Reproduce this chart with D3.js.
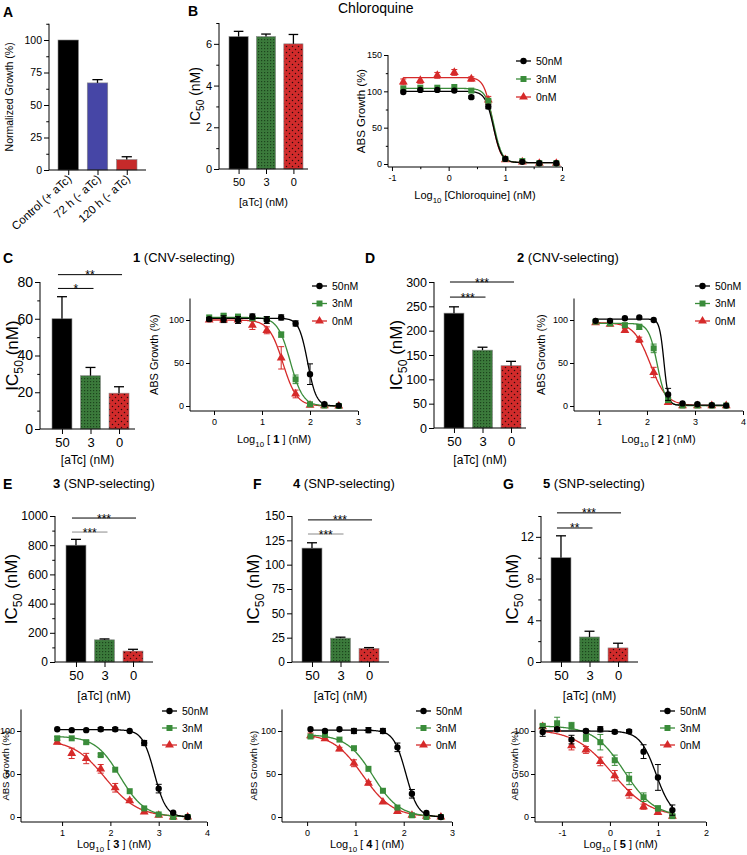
<!DOCTYPE html>
<html><head><meta charset="utf-8">
<script src="https://cdn.jsdelivr.net/npm/d3@7/dist/d3.min.js"></script>
<style>
body{margin:0;background:#fff;}
svg{font-family:"Liberation Sans", Arial, Helvetica, sans-serif;}
text{white-space:pre;}
</style></head><body>
<svg id="chart" width="747" height="855"></svg>
<script>
// ================= DATA =================
// Panel A
const aCategories = ["Control (+ aTc)", "72 h (- aTc)", "120 h (- aTc)"];
const aValues = [100, 67, 8];
const aErrors = [0, 2.5, 2.2];

// IC50 bar panels (aTc levels)
const atcLevels = ["50", "3", "0"];
const bIC50 = [6.35, 6.35, 6.0];
const bErr = [0.25, 0.12, 0.45];
const cIC50 = [60, 29, 19.5];
const cErr = [12, 4.5, 3.5];
const dIC50 = [236, 160, 128];
const dErr = [13, 6, 9];
const eIC50 = [800, 152, 75];
const eErr = [40, 6, 12];
const fIC50 = [117, 24.5, 14];
const fErr = [5.5, 1, 0.8];
const gIC50 = [10, 2.4, 1.35];
const gErr = [2.1, 0.55, 0.45];

// significance annotations: [compared level, stars, bracket level in data units]
const cSig = [["0", "**", 84], ["3", "*", 76.5]];
const dSig = [["0", "***", 300], ["3", "***", 269]];
const eSig = [["0", "***", 986], ["3", "***", 890]];
const fSig = [["0", "***", 146], ["3", "***", 131.5]];
const gSig = [["0", "***", 14.3], ["3", "**", 12.85]];

// Dose-response series (legend)
const seriesNames = ["50nM", "3nM", "0nM"];

// Chloroquine
const bLogX = [-0.8, -0.5, -0.2, 0.1, 0.4, 0.7, 1.0, 1.3, 1.6, 1.9];
const b_50 = [99, 102, 102, 101, 92, 79, 7, 3, 1, 1];
const b_50Err = [1, 1, 1, 1, 1.5, 3, 1, 1, 0.5, 0.5];
const b_3 = [104, 105, 105, 106, 101, 87, 7, 4, 1, 1];
const b_3Err = [1, 1, 1, 1, 1.5, 2, 1, 1, 0.5, 0.5];
const b_0 = [113, 115, 122, 126, 117, 88, 6, 3, 1, 1];
const b_0Err = [4, 4, 4, 4, 3, 5, 1, 1, 0.5, 0.5];
const bFit = [[100, 2, 0.79, 6], [104, 2, 0.8, 6], [119, 2, 0.77, 6]]; // top, bottom, logIC50, hill

// Compound 1
const cLogX = [-0.1, 0.2, 0.5, 0.8, 1.1, 1.4, 1.7, 2.0, 2.3, 2.6];
const c_50 = [101, 101, 100, 104, 100, 103, 96, 37, 2, 0.5];
const c_50Err = [2, 4, 4, 3, 4, 3, 3, 12, 1, 0.5];
const c_3 = [103, 105, 104, 102, 101, 83, 31, 2, 0.5, 0];
const c_3Err = [1, 2, 2, 2, 2, 3, 5, 1, 0.5, 0];
const c_0 = [100, 100, 100, 94, 88, 56, 14, 1, 0.5, 0];
const c_0Err = [1, 1, 1, 5, 4, 13, 4.5, 1, 0.5, 0];
const cFit = [[102, 0, 1.95, 4.8], [103, 0, 1.59, 3.3], [100, 0, 1.435, 3.0]];

// Compound 2
const dLogX = [0.93, 1.23, 1.54, 1.84, 2.14, 2.44, 2.74, 3.05, 3.35, 3.65];
const d_50 = [99, 99, 102, 103, 100, 13.5, 3, 2, 1, 0.5];
const d_50Err = [1, 1, 1, 1, 1, 7, 1, 1, 0.5, 0.5];
const d_3 = [98, 96, 94, 92, 67, 7, 0.5, 0.5, 0.5, 0.5];
const d_3Err = [1, 1, 2, 3, 5, 3, 0.5, 0.5, 0.5, 0.5];
const d_0 = [97, 95, 88, 77, 39, 4, 0.5, 0.5, 0.5, 0.5];
const d_0Err = [1, 1, 2, 3, 6, 2, 0.5, 0.5, 0.5, 0.5];
const dFit = [[101, 1, 2.354, 9.4], [96, 0.5, 2.214, 4.9], [97, 0.5, 2.07, 2.53]];

// Compound 3
const eLogX = [0.9, 1.2, 1.5, 1.8, 2.1, 2.4, 2.7, 3.0, 3.3, 3.6];
const e_50 = [102, 101, 101, 102, 102, 100, 86, 33, 5, 0];
const e_50Err = [1, 1, 1, 2, 2, 1, 3, 5, 1, 0.5];
const e_3 = [91.5, 91.5, 87, 72, 55, 30, 10, 3, 0, 0];
const e_3Err = [2, 1, 2, 1.5, 1, 1, 1, 1, 0.5, 0.5];
const e_0 = [87, 74, 68, 56, 34, 19, 6, 2, 0, 0];
const e_0Err = [2, 6, 6, 5, 5, 2, 2, 1, 0.5, 0.5];
const eFit = [[101.5, 0, 2.91, 3.53], [94, 0, 2.2, 1.7], [90, 0, 1.9, 1.3]];

// Compound 4
const fLogX = [0.07, 0.37, 0.67, 0.97, 1.27, 1.57, 1.87, 2.17, 2.47, 2.77];
const f_50 = [102, 100, 102, 100, 101, 100, 81, 27, 4.6, 0];
const f_50Err = [1, 1, 1, 3, 3, 3, 5, 5, 1, 0.5];
const f_3 = [93.6, 95.5, 90, 80, 56, 30.5, 11, 2, 0, 0];
const f_3Err = [1, 1, 1, 1, 1, 1, 1, 1, 0.5, 0.5];
const f_0 = [94.6, 91, 79, 62.5, 39.4, 17.4, 6.6, 2, 1, 0];
const f_0Err = [3, 2, 2, 4, 2, 1, 2, 1, 0.5, 0.5];
const fFit = [[101, 0, 2.044, 3.48], [96, 0, 1.362, 1.59], [97, 0, 1.153, 1.41]];

// Compound 5
const gLogX = [-1.4, -1.1, -0.8, -0.5, -0.2, 0.1, 0.4, 0.7, 1.0, 1.3];
const g_50 = [98.8, 102, 90, 100, 102, 99, 99.6, 76, 46, 8];
const g_50Err = [5, 2, 5, 2, 3, 2, 2, 8, 15, 6];
const g_3 = [106, 109, 106, 92, 87, 66, 44.6, 23, 10, 1];
const g_3Err = [2, 7, 4, 4, 9, 6, 7, 5, 3, 2];
const g_0 = [105, 102, 83, 78, 64.6, 48, 27, 12, 5.4, 1];
const g_0Err = [2, 2, 5, 4, 5, 6, 5, 3, 2, 1];
const gFit = [[100, 0, 0.96, 2.6], [106, 0, 0.3, 1.37], [102, 0, 0.05, 1.1]];

// ================= DRAWING =================
const svg = d3.select("#chart");
const BLACK = "#000", GREEN = "#3a8c3a", RED = "#d62a2a";
const seriesColors = [BLACK, GREEN, RED];

const defs = svg.append("defs");
const pg = defs.append("pattern").attr("id", "pGreen").attr("width", 3).attr("height", 3).attr("patternUnits", "userSpaceOnUse");
pg.append("rect").attr("width", 3).attr("height", 3).attr("fill", "#3b7a3b");
pg.append("rect").attr("width", 1.2).attr("height", 1.2).attr("fill", "#1c441c");
const pr = defs.append("pattern").attr("id", "pRed").attr("width", 6).attr("height", 6).attr("patternUnits", "userSpaceOnUse");
pr.append("rect").attr("width", 6).attr("height", 6).attr("fill", "#d12b2b");
pr.append("circle").attr("cx", 1.5).attr("cy", 1.5).attr("r", 0.75).attr("fill", "#2a0a0a");
pr.append("circle").attr("cx", 4.5).attr("cy", 4.5).attr("r", 0.75).attr("fill", "#2a0a0a");
const barFills = ["#000", "url(#pGreen)", "url(#pRed)"];

function styleAxis(g, fs) {
  g.select(".domain").remove();
  g.selectAll("line").attr("stroke", "#000").attr("stroke-width", 1);
  g.selectAll("text").attr("font-size", fs).attr("fill", "#000")
    .attr("font-family", '"Liberation Sans", Arial, sans-serif');
}
function leftAxis(x, scale, major, minor, fs, tl, yFrom, yTo) {
  const g = svg.append("g").attr("transform", `translate(${x},0)`);
  g.call(d3.axisLeft(scale).tickValues(major).tickSize(tl).tickPadding(2).tickFormat(d => String(d)));
  styleAxis(g, fs);
  if (minor && minor.length) {
    const m = svg.append("g").attr("transform", `translate(${x},0)`);
    m.call(d3.axisLeft(scale).tickValues(minor).tickSize(tl * 0.55).tickFormat(""));
    styleAxis(m, fs);
  }
  svg.append("line").attr("x1", x).attr("x2", x).attr("y1", yFrom).attr("y2", yTo).attr("stroke", "#000");
}
function bottomAxis(y, scale, major, minor, fs, tl, pad, xFrom, xTo, fmt) {
  const g = svg.append("g").attr("transform", `translate(0,${y})`);
  g.call(d3.axisBottom(scale).tickValues(major).tickSize(tl).tickPadding(pad).tickFormat(fmt || (d => String(d))));
  styleAxis(g, fs);
  if (minor && minor.length) {
    const m = svg.append("g").attr("transform", `translate(0,${y})`);
    m.call(d3.axisBottom(scale).tickValues(minor).tickSize(tl * 0.55).tickFormat(""));
    styleAxis(m, fs);
  }
  svg.append("line").attr("x1", xFrom).attr("x2", xTo).attr("y1", y).attr("y2", y).attr("stroke", "#000");
}
function rich(sel, parts, fs) {
  let shifted = 0;
  parts.forEach(p => {
    const ts = sel.append("tspan").text(p.t);
    if (p.sub) { ts.attr("font-size", fs * 0.72).attr("dy", fs * 0.32); shifted = fs * 0.32; }
    else if (shifted) { ts.attr("dy", -shifted); shifted = 0; }
    if (p.bold) ts.attr("font-weight", "bold");
  });
}
function label(x, y, txt, fs, opts = {}) {
  const t = svg.append("text").attr("x", x).attr("y", y).attr("font-size", fs)
    .attr("text-anchor", opts.anchor || "start").attr("fill", "#000");
  if (opts.bold) t.attr("font-weight", "bold");
  if (Array.isArray(txt)) rich(t, txt, fs); else t.text(txt);
  return t;
}
function vlabel(x, cy, parts, fs) {
  const t = svg.append("text").attr("transform", `translate(${x},${cy}) rotate(-90)`)
    .attr("text-anchor", "middle").attr("font-size", fs).attr("fill", "#000");
  rich(t, parts, fs);
}

// ----- Bar panel -----
function barPanel(cfg) {
  const y = d3.scaleLinear().domain(cfg.yDomain).range([cfg.yBottom, cfg.yTopPx]);
  const x = d3.scaleBand().domain(cfg.cats).range(cfg.barRange).paddingInner(0.3);
  const bw = x.bandwidth();
  const g = svg.append("g");
  g.selectAll("rect").data(cfg.values).join("rect")
    .attr("x", (d, i) => x(cfg.cats[i])).attr("y", d => y(d))
    .attr("width", bw).attr("height", d => y(0) - y(d))
    .attr("fill", (d, i) => cfg.fills[i]).attr("stroke", "#888").attr("stroke-width", 0.6);
  cfg.values.forEach((v, i) => {
    const e = cfg.errs[i];
    if (!e) return;
    const cx = x(cfg.cats[i]) + bw / 2;
    g.append("line").attr("x1", cx).attr("x2", cx).attr("y1", y(v)).attr("y2", y(v + e)).attr("stroke", "#000").attr("stroke-width", 1.3);
    g.append("line").attr("x1", cx - bw * 0.25).attr("x2", cx + bw * 0.25).attr("y1", y(v + e)).attr("y2", y(v + e)).attr("stroke", "#000").attr("stroke-width", 1.3);
  });
  leftAxis(cfg.axisX, y, cfg.ticks, cfg.minor, cfg.tickFont, 5, y(cfg.yDomain[1]), cfg.yBottom);
  const xc = d3.scalePoint().domain(cfg.cats).range([x(cfg.cats[0]) + bw / 2, x(cfg.cats[cfg.cats.length - 1]) + bw / 2]);
  if (cfg.rotated) {
    bottomAxis(cfg.yBottom, xc, cfg.cats, [], cfg.catFont, 5, 3, cfg.axisX, cfg.axisEnd, () => "");
    cfg.cats.forEach(c => {
      svg.append("text").attr("transform", `translate(${xc(c) + 4},${cfg.yBottom + 10}) rotate(-42)`)
        .attr("text-anchor", "end").attr("font-size", cfg.catFont).text(c);
    });
  } else {
    bottomAxis(cfg.yBottom, xc, cfg.cats, [], cfg.catFont, 5, 4, cfg.axisX, cfg.axisEnd);
  }
  if (cfg.sig) {
    cfg.sig.forEach((s, k) => {
      const ly = y(s[2]);
      const x1 = xc(cfg.cats[0]) - 4, x2 = xc(s[0]) + 3;
      svg.append("line").attr("x1", x1).attr("x2", x2).attr("y1", ly).attr("y2", ly)
        .attr("stroke", cfg.sigGray && k === 1 ? "#8a8a8a" : "#000").attr("stroke-width", 1);
      svg.append("text").attr("x", (x1 + x2) / 2).attr("y", ly + 4.5).attr("text-anchor", "middle")
        .attr("font-size", 12).text(s[1]);
    });
  }
  if (cfg.ylabel) vlabel(cfg.ylabelX, (y(cfg.yDomain[1]) + cfg.yBottom) / 2, cfg.ylabel, cfg.ylabelFont);
  if (cfg.xlabel) label((cfg.axisX + cfg.axisEnd) / 2, cfg.xlabelY, cfg.xlabel, cfg.xlabelFont, { anchor: "middle" });
}

// ----- Dose-response panel -----
const symbols = [d3.symbolCircle, d3.symbolSquare, d3.symbolTriangle];
const symSizes = [32, 36, 34];
function curvePanel(cfg) {
  const x = d3.scaleLinear().domain(cfg.xDomain).range(cfg.xRange);
  const y = d3.scaleLinear().domain([0, cfg.yMax]).range([cfg.y0, cfg.yTop]);
  leftAxis(cfg.xRange[0], y, cfg.yTicks, cfg.yMinor, 9, 4, cfg.yTop, cfg.xAxisY);
  bottomAxis(cfg.xAxisY, x, cfg.xTicks, cfg.xMinor, 9, 4, 4, cfg.xRange[0], cfg.xRange[1]);
  const line = d3.line().x(d => x(d[0])).y(d => y(d[1]));
  const order = [2, 1, 0];
  order.forEach(i => {
    const s = cfg.series[i];
    const [top, bot, c, h] = s.fit;
    const lo = d3.min(cfg.logX), hi = d3.max(cfg.logX);
    const pts = d3.range(lo, hi + 1e-9, (hi - lo) / 200).map(v => [v, bot + (top - bot) / (1 + Math.pow(10, (v - c) * h))]);
    svg.append("path").attr("d", line(pts)).attr("fill", "none").attr("stroke", seriesColors[i]).attr("stroke-width", 1.3);
  });
  order.forEach(i => {
    const s = cfg.series[i];
    const g = svg.append("g").attr("stroke", seriesColors[i]).attr("stroke-width", 1);
    cfg.logX.forEach((lx, j) => {
      const v = s.vals[j], e = s.errs[j];
      if (e < 1.2) return;
      const cx = x(lx);
      g.append("line").attr("x1", cx).attr("x2", cx).attr("y1", y(v - e)).attr("y2", y(v + e));
      [v - e, v + e].forEach(t => g.append("line").attr("x1", cx - 3).attr("x2", cx + 3).attr("y1", y(t)).attr("y2", y(t)));
    });
    svg.append("g").selectAll("path").data(s.vals).join("path")
      .attr("transform", (d, j) => `translate(${x(cfg.logX[j])},${y(d)})`)
      .attr("d", d3.symbol(symbols[i], symSizes[i])).attr("fill", seriesColors[i]);
  });
  // legend
  seriesNames.forEach((n, i) => {
    const ly = cfg.legend[1] + i * cfg.legendStep;
    svg.append("line").attr("x1", cfg.legend[0]).attr("x2", cfg.legend[0] + 15).attr("y1", ly).attr("y2", ly)
      .attr("stroke", seriesColors[i]).attr("stroke-width", 1.3);
    svg.append("path").attr("transform", `translate(${cfg.legend[0] + 7.5},${ly})`)
      .attr("d", d3.symbol(symbols[i], symSizes[i])).attr("fill", seriesColors[i]);
    svg.append("text").attr("x", cfg.legend[0] + 20).attr("y", ly + 3.6).attr("font-size", 10.5).text(n);
  });
  vlabel(cfg.ylabelX, (cfg.yTop + cfg.xAxisY) / 2, [{ t: "ABS Growth (%)" }], cfg.ylabelFont);
  label((cfg.xRange[0] + cfg.xRange[1]) / 2, cfg.xlabelY, cfg.xlabel, 11, { anchor: "middle" });
}

const ic50Label = [{ t: "IC" }, { t: "50", sub: true }, { t: " (nM)" }];
const atcLabel = [{ t: "[aTc] (nM)" }];

// Panel letters & titles
[["A", 3, 17], ["B", 188, 16], ["C", 3, 263], ["D", 365, 263], ["E", 3, 489], ["F", 253, 489], ["G", 503, 489]]
  .forEach(p => label(p[1], p[2], p[0], 14, { bold: true }));
label(338, 13, "Chloroquine", 14);
label(133, 262, [{ t: "1", bold: true }, { t: " (CNV-selecting)" }], 13);
label(517, 262, [{ t: "2", bold: true }, { t: " (CNV-selecting)" }], 13);
label(53, 488, [{ t: "3", bold: true }, { t: " (SNP-selecting)" }], 13);
label(293, 488, [{ t: "4", bold: true }, { t: " (SNP-selecting)" }], 13);
label(543, 488, [{ t: "5", bold: true }, { t: " (SNP-selecting)" }], 13);

// A
barPanel({ cats: aCategories, values: aValues, errs: aErrors, fills: ["#000", "#4646a6", "#c62a2a"],
  yDomain: [0, 112.5], yBottom: 170, yTopPx: 23.75, barRange: [58, 137], axisX: 49, axisEnd: 146,
  ticks: [0, 25, 50, 75, 100], minor: [12.5, 37.5, 62.5, 87.5, 112.5], tickFont: 10.5, catFont: 11.5, rotated: true,
  ylabel: [{ t: "Normalized Growth (%)" }], ylabelX: 13, ylabelFont: 10.5 });
// B
barPanel({ cats: atcLevels, values: bIC50, errs: bErr, fills: barFills,
  yDomain: [0, 7], yBottom: 169, yTopPx: 23, barRange: [229, 303], axisX: 219, axisEnd: 308,
  ticks: [0, 2, 4, 6], minor: [1, 3, 5, 7], tickFont: 11, catFont: 11,
  ylabel: ic50Label, ylabelX: 200, ylabelFont: 14, xlabel: atcLabel, xlabelY: 206, xlabelFont: 11 });
// C
barPanel({ cats: atcLevels, values: cIC50, errs: cErr, fills: barFills, sig: cSig,
  yDomain: [0, 80], yBottom: 429, yTopPx: 282, barRange: [52, 129], axisX: 40, axisEnd: 135,
  ticks: [0, 20, 40, 60, 80], minor: [10, 30, 50, 70], tickFont: 14, catFont: 13,
  ylabel: ic50Label, ylabelX: 18, ylabelFont: 17, xlabel: atcLabel, xlabelY: 464, xlabelFont: 12 });
// D
barPanel({ cats: atcLevels, values: dIC50, errs: dErr, fills: barFills, sig: dSig,
  yDomain: [0, 300], yBottom: 428, yTopPx: 282, barRange: [444, 521], axisX: 434, axisEnd: 526,
  ticks: [0, 50, 100, 150, 200, 250, 300], minor: [], tickFont: 12.5, catFont: 13,
  ylabel: ic50Label, ylabelX: 402, ylabelFont: 17, xlabel: atcLabel, xlabelY: 464, xlabelFont: 12 });
// E
barPanel({ cats: atcLevels, values: eIC50, errs: eErr, fills: barFills, sig: eSig, sigGray: true,
  yDomain: [0, 1000], yBottom: 662, yTopPx: 516, barRange: [66, 143], axisX: 55, axisEnd: 153,
  ticks: [0, 200, 400, 600, 800, 1000], minor: [100, 300, 500, 700, 900], tickFont: 12, catFont: 13,
  ylabel: ic50Label, ylabelX: 17, ylabelFont: 17, xlabel: atcLabel, xlabelY: 700, xlabelFont: 12 });
// F
barPanel({ cats: atcLevels, values: fIC50, errs: fErr, fills: barFills, sig: fSig, sigGray: true,
  yDomain: [0, 150], yBottom: 662, yTopPx: 516, barRange: [302, 379], axisX: 292, axisEnd: 389,
  ticks: [0, 25, 50, 75, 100, 125, 150], minor: [], tickFont: 12, catFont: 13,
  ylabel: ic50Label, ylabelX: 259, ylabelFont: 17, xlabel: atcLabel, xlabelY: 700, xlabelFont: 12 });
// G
barPanel({ cats: atcLevels, values: gIC50, errs: gErr, fills: barFills, sig: gSig,
  yDomain: [0, 14], yBottom: 662, yTopPx: 516, barRange: [551, 628], axisX: 541, axisEnd: 638,
  ticks: [0, 4, 8, 12], minor: [2, 6, 10, 14], tickFont: 12, catFont: 13,
  ylabel: ic50Label, ylabelX: 518, ylabelFont: 17, xlabel: atcLabel, xlabelY: 700, xlabelFont: 12 });

// Curves
curvePanel({ logX: bLogX, series: [{ vals: b_50, errs: b_50Err, fit: bFit[0] }, { vals: b_3, errs: b_3Err, fit: bFit[1] }, { vals: b_0, errs: b_0Err, fit: bFit[2] }],
  xDomain: [-1.07, 2], xRange: [388, 562], yMax: 150, y0: 164, yTop: 55, xAxisY: 167,
  yTicks: [0, 50, 100, 150], yMinor: [25, 75, 125], xTicks: [-1, 0, 1, 2], xMinor: [-0.5, 0.5, 1.5],
  legend: [516, 61], legendStep: 18, ylabelX: 365, ylabelFont: 11.5,
  xlabel: [{ t: "Log" }, { t: "10", sub: true }, { t: " [Chloroquine] (nM)" }], xlabelY: 199 });
curvePanel({ logX: cLogX, series: [{ vals: c_50, errs: c_50Err, fit: cFit[0] }, { vals: c_3, errs: c_3Err, fit: cFit[1] }, { vals: c_0, errs: c_0Err, fit: cFit[2] }],
  xDomain: [-0.5, 3], xRange: [190, 358], yMax: 125, y0: 406, yTop: 298.5, xAxisY: 411,
  yTicks: [0, 50, 100], yMinor: [], xTicks: [0, 1, 2, 3], xMinor: [],
  legend: [312, 286], legendStep: 17.5, ylabelX: 158, ylabelFont: 11,
  xlabel: [{ t: "Log" }, { t: "10", sub: true }, { t: " [ " }, { t: "1", bold: true }, { t: " ] (nM)" }], xlabelY: 443 });
curvePanel({ logX: dLogX, series: [{ vals: d_50, errs: d_50Err, fit: dFit[0] }, { vals: d_3, errs: d_3Err, fit: dFit[1] }, { vals: d_0, errs: d_0Err, fit: dFit[2] }],
  xDomain: [0.48, 4], xRange: [574, 743], yMax: 125, y0: 406, yTop: 298.5, xAxisY: 411,
  yTicks: [0, 50, 100], yMinor: [], xTicks: [1, 2, 3, 4], xMinor: [],
  legend: [695, 286], legendStep: 17.5, ylabelX: 545, ylabelFont: 11,
  xlabel: [{ t: "Log" }, { t: "10", sub: true }, { t: " [ " }, { t: "2", bold: true }, { t: " ] (nM)" }], xlabelY: 443 });
curvePanel({ logX: eLogX, series: [{ vals: e_50, errs: e_50Err, fit: eFit[0] }, { vals: e_3, errs: e_3Err, fit: eFit[1] }, { vals: e_0, errs: e_0Err, fit: eFit[2] }],
  xDomain: [0.15, 4], xRange: [21, 207], yMax: 125, y0: 817, yTop: 709.5, xAxisY: 822,
  yTicks: [0, 50, 100], yMinor: [], xTicks: [1, 2, 3, 4], xMinor: [],
  legend: [162, 711], legendStep: 17, ylabelX: 9, ylabelFont: 9.5,
  xlabel: [{ t: "Log" }, { t: "10", sub: true }, { t: " [ " }, { t: "3", bold: true }, { t: " ] (nM)" }], xlabelY: 848 });
curvePanel({ logX: fLogX, series: [{ vals: f_50, errs: f_50Err, fit: fFit[0] }, { vals: f_3, errs: f_3Err, fit: fFit[1] }, { vals: f_0, errs: f_0Err, fit: fFit[2] }],
  xDomain: [-0.52, 3], xRange: [282, 452], yMax: 125, y0: 817, yTop: 709.5, xAxisY: 822,
  yTicks: [0, 50, 100], yMinor: [], xTicks: [0, 1, 2, 3], xMinor: [],
  legend: [416, 711], legendStep: 17, ylabelX: 257, ylabelFont: 9.5,
  xlabel: [{ t: "Log" }, { t: "10", sub: true }, { t: " [ " }, { t: "4", bold: true }, { t: " ] (nM)" }], xlabelY: 848 });
curvePanel({ logX: gLogX, series: [{ vals: g_50, errs: g_50Err, fit: gFit[0] }, { vals: g_3, errs: g_3Err, fit: gFit[1] }, { vals: g_0, errs: g_0Err, fit: gFit[2] }],
  xDomain: [-1.56, 2], xRange: [535, 706], yMax: 125, y0: 817, yTop: 709.5, xAxisY: 822,
  yTicks: [0, 50, 100], yMinor: [], xTicks: [-1, 0, 1, 2], xMinor: [],
  legend: [660, 711], legendStep: 17, ylabelX: 518, ylabelFont: 9.5,
  xlabel: [{ t: "Log" }, { t: "10", sub: true }, { t: " [ " }, { t: "5", bold: true }, { t: " ] (nM)" }], xlabelY: 848 });
</script>
</body></html>
